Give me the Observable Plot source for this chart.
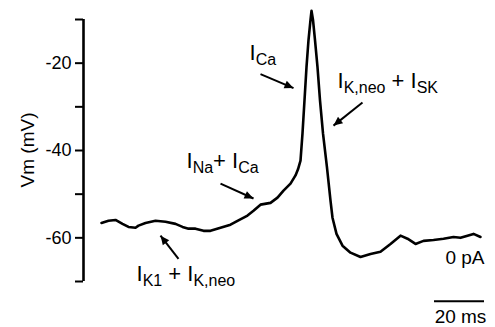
<!DOCTYPE html>
<html><head><meta charset="utf-8">
<script src="https://cdn.jsdelivr.net/npm/d3@7"></script>
<script src="https://cdn.jsdelivr.net/npm/@observablehq/plot@0.6"></script>
<style>body{margin:0;background:#fff} svg{display:block}</style>
</head><body><div id="chart"></div>
<script>
// Membrane potential trace (time in ms, Vm in mV)
const timeMs = [0.4,3.2,6.0,8.8,11.2,14.0,15.2,18.0,22.0,26.0,30.0,32.8,35.2,38.0,41.2,44.0,48.0,52.0,54.8,58.8,61.2,64.0,68.0,70.8,73.2,76.0,78.0,79.0,80.0,80.8,81.6,82.4,83.2,84.0,84.4,85.0,85.8,86.8,87.8,89.0,90.6,92.0,92.8,94.4,96.8,100.0,104.0,108.0,112.0,116.0,120.0,122.8,126.0,129.2,133.2,137.2,141.2,144.0,146.8,149.2,152.0];
const vmMv   = [-56.6,-56.1,-55.9,-56.8,-57.5,-57.7,-57.2,-56.6,-56.1,-56.3,-56.8,-57.5,-57.9,-57.9,-58.4,-58.4,-57.7,-57.0,-56.1,-54.9,-53.8,-52.4,-52.0,-50.8,-49.2,-47.6,-45.7,-44.3,-42.3,-36.1,-28.5,-20.9,-14.7,-10.1,-8.0,-10.1,-14.7,-20.9,-28.5,-36.1,-43.9,-51.5,-55.4,-59.1,-61.8,-63.4,-64.4,-63.7,-63.2,-61.4,-59.5,-60.2,-61.4,-60.7,-60.5,-60.2,-59.8,-60.0,-59.5,-59.1,-59.8];

const yTicks = [-70,-60,-50,-40,-30,-20,-10];
const yTickLabels = {"-60":"-60","-40":"-40","-20":"-20"};
const yLabel = "Vm (mV)";

// annotations: current labels and arrows
const annotText = ["I_{Ca}", "I_{K,neo} + I_{SK}", "I_{Na}+ I_{Ca}", "I_{K1} + I_{K,neo}"];
const annotT = [59.6, 94.8, 34.4, 14.4];
const annotV = [-19.3, -25.7, -43.9, -69.9];
const arrowT1 = [64.0, 104.8, 48.0, 31.2];
const arrowV1 = [-22.5, -29.0, -47.6, -64.8];
const arrowT2 = [77.2, 93.2, 61.2, 24.0];
const arrowV2 = [-25.7, -34.3, -51.0, -59.5];

const currentLabel = "0 pA";
const scaleBarMs = 20;
const scaleBarLabel = "20 ms";

const trace = timeMs.map((t, i) => ({t, v: vmMv[i]}));
const annots = annotText.map((s, i) => ({s, t: annotT[i], v: annotV[i]}));
const arrows = arrowT1.map((t, i) => ({x1: t, y1: arrowV1[i], x2: arrowT2[i], y2: arrowV2[i]}));
const bar = [{x1: 153.6 - scaleBarMs, x2: 153.6, y: -74.5}];

const plot = Plot.plot({
  width: 495, height: 327,
  marginLeft: 83, marginRight: 0, marginTop: 19, marginBottom: 46,
  x: {domain: [-6.8, 158], axis: null},
  y: {domain: [-70, -10], axis: null},
  style: {fontFamily: "'Liberation Sans', Arial, sans-serif", fontSize: "18px", color: "#000", background: "#fff"},
  marks: [
    Plot.axisY(yTicks, {anchor: "left", tickSize: 8, tickPadding: 4, strokeWidth: 2, fontSize: 18,
      tickFormat: d => yTickLabels[d] ?? "", label: null}),
    Plot.ruleX([-6.8], {y1: -70, y2: -10, strokeWidth: 2.6}),
    Plot.line(trace, {x: "t", y: "v", strokeWidth: 2.6, stroke: "#000"}),
    Plot.link(arrows, {x1: "x1", y1: "y1", x2: "x2", y2: "y2", strokeWidth: 2, stroke: "#000"}),
    Plot.text(annots, {x: "t", y: "v", text: "s", textAnchor: "start", lineAnchor: "bottom", fontSize: 22}),
    Plot.ruleY(bar, {x1: "x1", x2: "x2", y: "y", strokeWidth: 2, stroke: "#000"}),
    Plot.text([currentLabel], {x: 153.6, y: -66, textAnchor: "end", lineAnchor: "bottom", fontSize: 19}),
    Plot.text([scaleBarLabel], {x: 144, y: -79.6, textAnchor: "middle", lineAnchor: "bottom", fontSize: 19})
  ]
});

const svg = d3.select(plot);
// arrowhead marker
const defs = svg.append("defs");
defs.append("marker").attr("id", "ah").attr("viewBox", "0 0 10 10")
  .attr("refX", 10).attr("refY", 5).attr("markerWidth", 11).attr("markerHeight", 9)
  .attr("markerUnits", "userSpaceOnUse").attr("orient", "auto")
  .append("path").attr("d", "M0,0.5L10,5L0,9.5z").attr("fill", "#000");
svg.selectAll('g[aria-label="link"] path').attr("marker-end", "url(#ah)");

// subscripts
svg.selectAll("text").filter(function() { return this.textContent.includes("_{"); }).each(function() {
  const s = this.textContent;
  const el = d3.select(this).style("white-space", "pre");
  el.text("");
  const parts = s.split(/(_\{[^}]*\})/).filter(p => p.length);
  let shifted = false;
  for (const p of parts) {
    if (p.startsWith("_{")) {
      el.append("tspan").attr("font-size", 16).attr("dy", shifted ? null : "5").text(p.slice(2, -1));
      shifted = true;
    } else {
      el.append("tspan").attr("dy", shifted ? "-5" : null).text(p);
      shifted = false;
    }
  }
});

// y-axis title
svg.append("text").attr("transform", "translate(27,150) rotate(-90)")
  .attr("text-anchor", "middle").attr("dy", "0.35em").attr("font-size", 19).text(yLabel);

document.getElementById("chart").appendChild(plot);
</script>
</body></html>
